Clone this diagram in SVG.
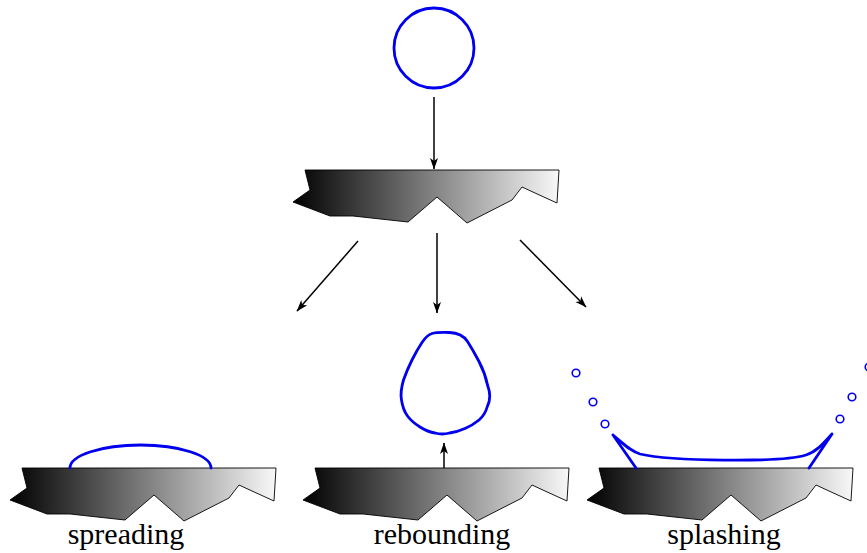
<svg xmlns="http://www.w3.org/2000/svg" width="867" height="553" viewBox="0 0 867 553">
  <style>
    .surface { fill: url(#shade); stroke: #000; stroke-width: 0.9; stroke-linejoin: miter; }
    .drop { fill: none; stroke: #0000ee; stroke-width: 2.8; stroke-linejoin: round; stroke-linecap: round; }
    .bead { fill: none; stroke: #0000ee; stroke-width: 1.6; }
    .arrow { fill: none; stroke: #000; stroke-width: 1.5; marker-end: url(#tip); }
    .label { font-family: "Liberation Serif", "DejaVu Serif", serif; font-size: 30px; fill: #000; text-anchor: middle; }
  </style>
  <defs>
    <linearGradient id="shade" x1="0" y1="0" x2="1" y2="0">
      <stop offset="0" stop-color="#000"/>
      <stop offset="1" stop-color="#f8f8f8"/>
    </linearGradient>
    <marker id="tip" markerUnits="userSpaceOnUse" markerWidth="14" markerHeight="10" viewBox="-12 -5 13 10" refX="0" refY="0" orient="auto">
      <path d="M0.5,0 L-11,-4 L-8,0 L-11,4 Z" fill="#000"/>
    </marker>
    <path id="rock" d="M0,0 L254,0 L252,33 L230,23 L217,17 L207,30 L162,53 L132,27 L103,52 L48,46 L25,46 L-12,32 L5,20 Z"/>
  </defs>

  <!-- falling drop -->
  <g id="drop-initial">
    <circle class="drop" cx="434" cy="48" r="40"/>
  </g>

  <!-- impact surface -->
  <g id="surface-impact">
    <use href="#rock" class="surface" transform="translate(305,170)"/>
  </g>

  <!-- spreading outcome -->
  <g id="spreading">
    <use href="#rock" class="surface" transform="translate(22,468)"/>
    <path class="drop" d="M70,468 A70.5,23 0 0 1 211,468"/>
    <text class="label" x="126" y="544">spreading</text>
  </g>

  <!-- rebounding outcome -->
  <g id="rebounding">
    <use href="#rock" class="surface" transform="translate(315,468)"/>
    <path class="drop" d="M432,333.5 Q437,332 449.5,332.5 Q462,333 467.5,341.5 Q473,350 479,361.5 Q485,373 487.5,385 Q492,397 487.5,406 Q485,415 479,420 Q473,425 465,428.5 Q457,432 449.5,433 Q442,435 435,433 Q428,432 420,427 Q412,422 407.5,416 Q403,410 401.5,400 Q400,392 403.5,380 Q407,370 412,360 Q417,350 422,342.5 Q427,335 432,333.5 Z"/>
    <text class="label" x="442" y="544">rebounding</text>
  </g>

  <!-- splashing outcome -->
  <g id="splashing">
    <use href="#rock" class="surface" transform="translate(599,468)"/>
    <path class="drop" d="M613,435 L636,468 M832,434 L809,468 M613,435 C624,444 630,451 640,454 C670,461 780,463 806,455 C816,452 823,444 832,434"/>
    <circle class="bead" cx="576" cy="373" r="3.8"/>
    <circle class="bead" cx="593" cy="402" r="3.8"/>
    <circle class="bead" cx="605" cy="424" r="3.8"/>
    <circle class="bead" cx="840" cy="419" r="3.8"/>
    <circle class="bead" cx="852" cy="397" r="3.8"/>
    <circle class="bead" cx="869" cy="367" r="3.8"/>
    <text class="label" x="724" y="544">splashing</text>
  </g>

  <!-- connectors -->
  <g id="connectors">
    <path class="arrow" d="M434,97 L434,169"/>
    <path class="arrow" d="M358,241 L297,311"/>
    <path class="arrow" d="M437,233 L437,313"/>
    <path class="arrow" d="M520,240 L586,307"/>
    <path class="arrow" d="M444,468 L444,443"/>
  </g>
</svg>
